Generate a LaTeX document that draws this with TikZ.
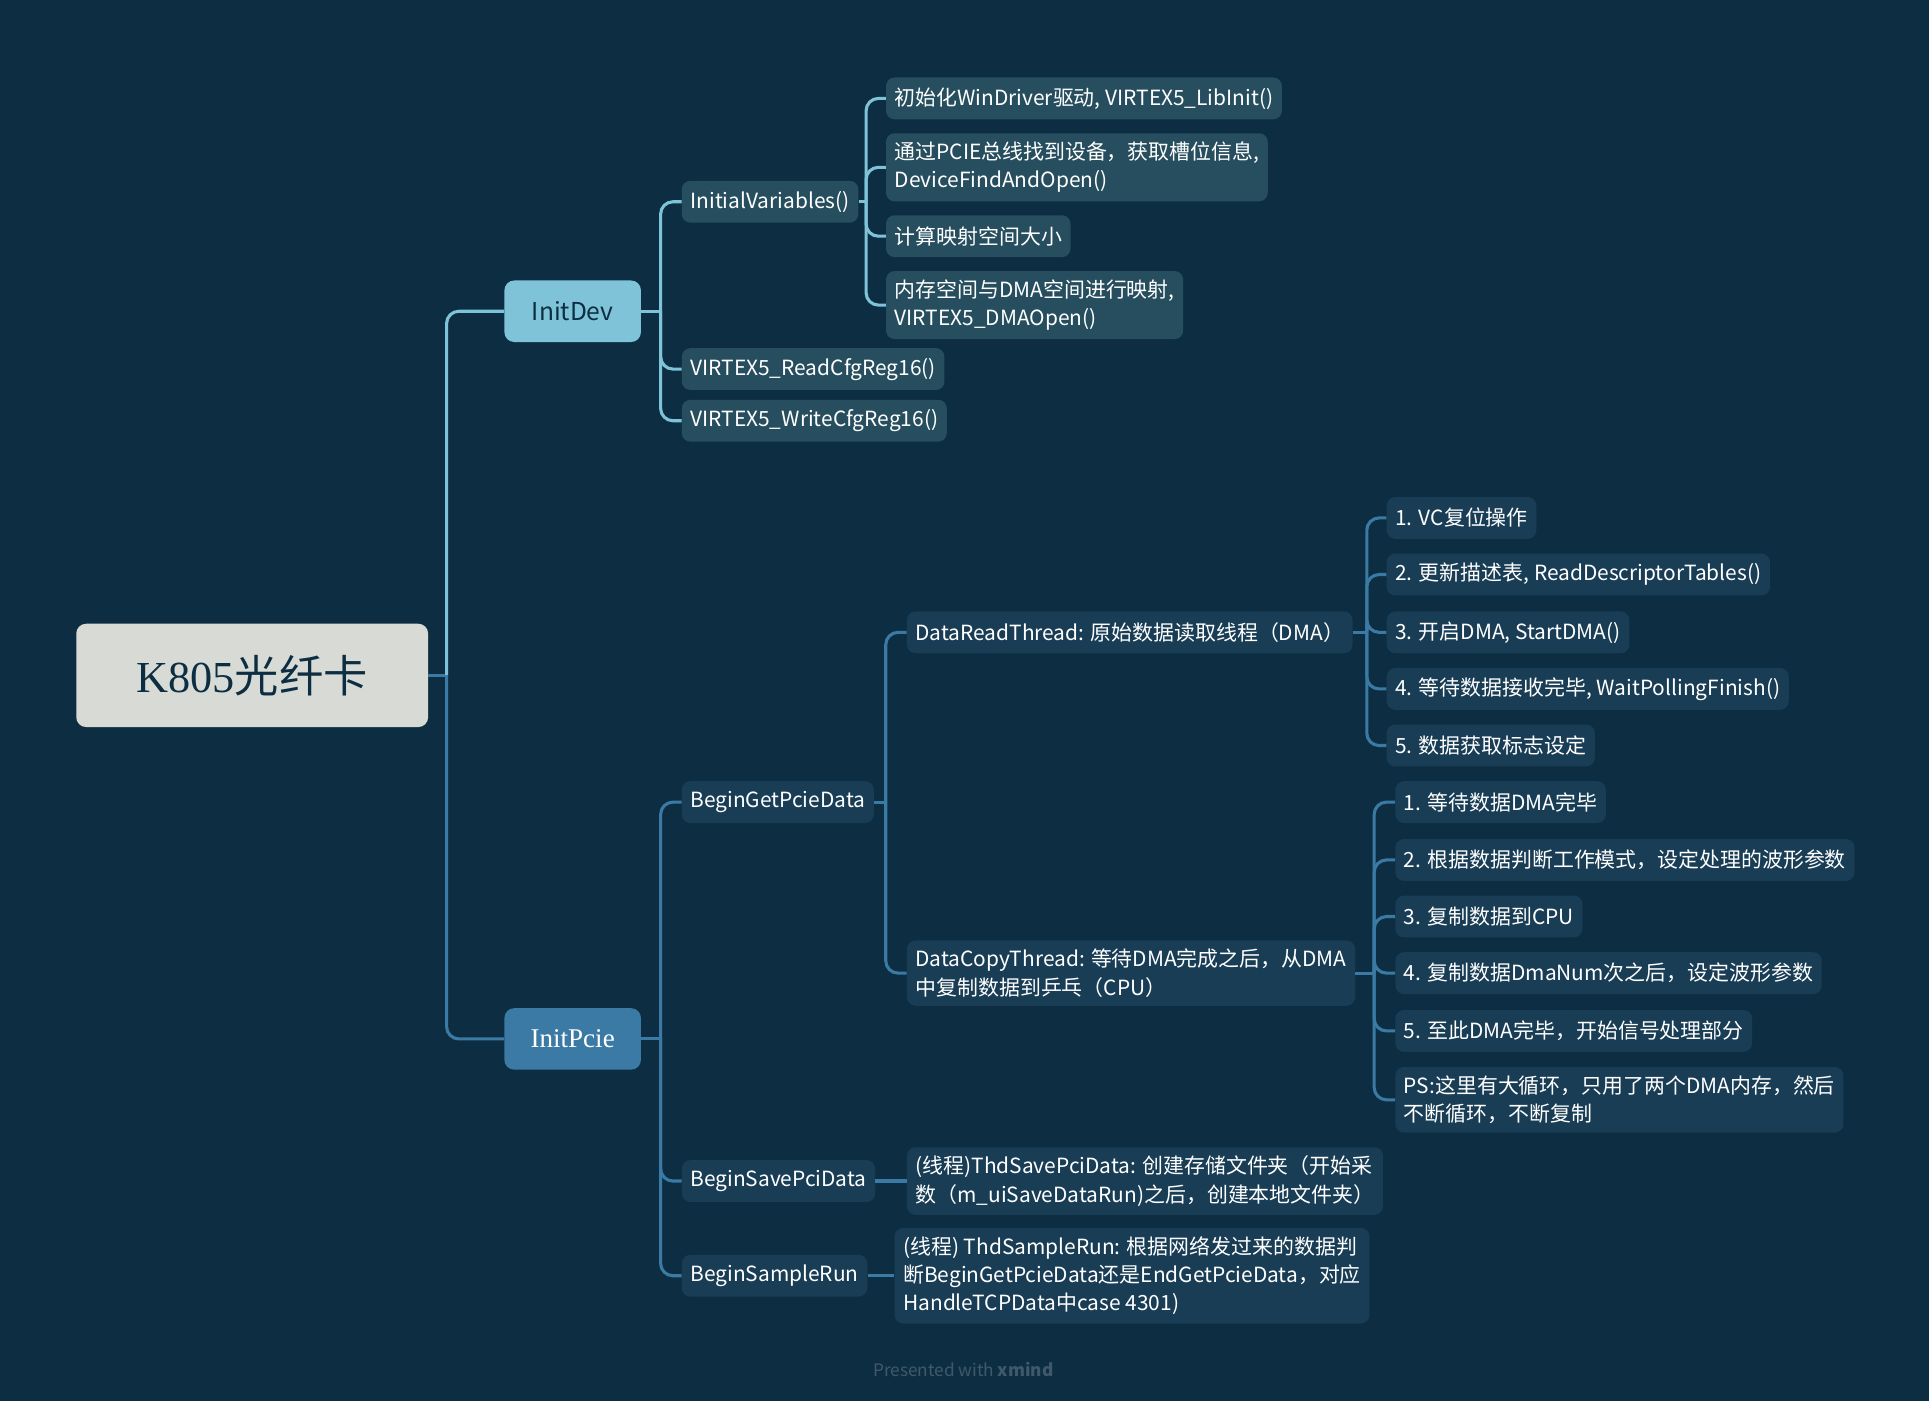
\documentclass[tikz,border=0pt]{standalone}
\usepackage{fontspec}
\setmainfont{Noto Sans CJK SC}
\newfontfamily\rootserif{Liberation Serif}
\usetikzlibrary{positioning}

\definecolor{bgnavy}{HTML}{0D2E42}
\definecolor{rootgray}{HTML}{D8DBD5}
\definecolor{devblue}{HTML}{7FC3D8}
\definecolor{devfill}{HTML}{264E5E}
\definecolor{pcieblue}{HTML}{3A7AA5}
\definecolor{pciefill}{HTML}{183D55}
\definecolor{footgray}{HTML}{40596A}

\tikzset{
  topic/.style={rounded corners=8pt, minimum width=111pt, minimum height=50pt, inner sep=0pt},
  leaf/.style={rounded corners=7pt, anchor=west, align=left, text=white,
    inner xsep=7pt, inner ysep=7pt, minimum height=34pt,
    font=\fontsize{17}{23}\selectfont},
  devleaf/.style={leaf, fill=devfill},
  pcieleaf/.style={leaf, fill=pciefill},
  devlink/.style={draw=devblue, line width=2.5pt, rounded corners=10pt},
  pcielink/.style={draw=pcieblue, line width=2.5pt, rounded corners=10pt}
}

\begin{document}
\begin{tikzpicture}[x=1pt,y=-1pt]
  \fill[bgnavy] (0,0) rectangle (1568,1139);

  % central topic and main branches
  \node[rounded corners=8pt, fill=rootgray, text=bgnavy, minimum width=286pt, minimum height=84pt,
    font=\fontsize{36}{40}\selectfont] (root) at (205,549) {{\rootserif K805}光纤卡};
  \node[topic, fill=devblue, text=bgnavy, font=\fontsize{20}{24}\selectfont] (initdev) at (465.5,253) {InitDev};
  \node[topic, fill=pcieblue, text=white, font=\rootserif\fontsize{22}{26}\selectfont] (initpcie) at (465.5,844.5) {InitPcie};

  % InitDev
  \node[devleaf] (initvar) at (554,164) {InitialVariables()};
  \node[devleaf] (readreg) at (554,300) {VIRTEX5\_ReadCfgReg16()};
  \node[devleaf] (writereg) at (554,342) {VIRTEX5\_WriteCfgReg16()};

  \node[devleaf] (libinit) at (720,80) {初始化WinDriver驱动, VIRTEX5\_LibInit()};
  \node[devleaf] (findopen) at (720,136) {通过PCIE总线找到设备，获取槽位信息,\\DeviceFindAndOpen()};
  \node[devleaf] (mapsize) at (720,192) {计算映射空间大小};
  \node[devleaf] (dmaopen) at (720,248) {内存空间与DMA空间进行映射,\\VIRTEX5\_DMAOpen()};

  % InitPcie
  \node[pcieleaf] (getdata) at (554,652) {BeginGetPcieData};
  \node[pcieleaf] (savedata) at (554,960) {BeginSavePciData};
  \node[pcieleaf] (samplerun) at (554,1037) {BeginSampleRun};

  \node[pcieleaf] (readthread) at (737,514) {DataReadThread: 原始数据读取线程（DMA）};
  \node[pcieleaf] (copythread) at (737,791) {DataCopyThread: 等待DMA完成之后，从DMA\\中复制数据到乒乓（CPU）};
  \node[pcieleaf] (savethread) at (737,960) {(线程)ThdSavePciData: 创建存储文件夹（开始采\\数（m\_uiSaveDataRun)之后，创建本地文件夹）};
  \node[pcieleaf] (samplethread) at (727,1037) {(线程) ThdSampleRun: 根据网络发过来的数据判\\断BeginGetPcieData还是EndGetPcieData，对应\\HandleTCPData中case 4301)};

  \node[pcieleaf] (read1) at (1127,421) {1. VC复位操作};
  \node[pcieleaf] (read2) at (1127,467) {2. 更新描述表, ReadDescriptorTables()};
  \node[pcieleaf] (read3) at (1127,514) {3. 开启DMA, StartDMA()};
  \node[pcieleaf] (read4) at (1127,560) {4. 等待数据接收完毕, WaitPollingFinish()};
  \node[pcieleaf] (read5) at (1127,606) {5. 数据获取标志设定};

  \node[pcieleaf] (copy1) at (1134,652) {1. 等待数据DMA完毕};
  \node[pcieleaf] (copy2) at (1134,699) {2. 根据数据判断工作模式，设定处理的波形参数};
  \node[pcieleaf] (copy3) at (1134,745) {3. 复制数据到CPU};
  \node[pcieleaf] (copy4) at (1134,791) {4. 复制数据DmaNum次之后，设定波形参数};
  \node[pcieleaf] (copy5) at (1134,838) {5. 至此DMA完毕，开始信号处理部分};
  \node[pcieleaf] (copy6) at (1134,894) {PS:这里有大循环，只用了两个DMA内存，然后\\不断循环，不断复制};

  % forks
  \coordinate (rootfork) at (363,549);
  \coordinate (devfork) at (537,253);
  \coordinate (varfork) at (704,164);
  \coordinate (pciefork) at (537,844.5);
  \coordinate (getfork) at (720,652);
  \coordinate (readfork) at (1111,514);
  \coordinate (copyfork) at (1117,791);

  % connectors
  \draw[pcielink] (root.east) -- (rootfork);
  \draw[devlink] (rootfork) |- (initdev.west);
  \draw[pcielink] (rootfork) |- (initpcie.west);

  \draw[devlink] (initdev.east) -- (devfork);
  \foreach \c in {initvar,readreg,writereg}
    \draw[devlink] (devfork) |- (\c.west);
  \draw[devlink] (initvar.east) -- (varfork);
  \foreach \c in {libinit,findopen,mapsize,dmaopen}
    \draw[devlink] (varfork) |- (\c.west);

  \draw[pcielink] (initpcie.east) -- (pciefork);
  \foreach \c in {getdata,savedata,samplerun}
    \draw[pcielink] (pciefork) |- (\c.west);
  \draw[pcielink] (getdata.east) -- (getfork);
  \foreach \c in {readthread,copythread}
    \draw[pcielink] (getfork) |- (\c.west);
  \draw[pcielink] (readthread.east) -- (readfork);
  \foreach \c in {read1,read2,read3,read4,read5}
    \draw[pcielink] (readfork) |- (\c.west);
  \draw[pcielink] (copythread.east) -- (copyfork);
  \foreach \c in {copy1,copy2,copy3,copy4,copy5,copy6}
    \draw[pcielink] (copyfork) |- (\c.west);
  \draw[pcielink] (savedata.east) -- (savethread.west);
  \draw[pcielink] (samplerun.east) -- (samplethread.west);

  \node[text=footgray, font=\fontsize{14}{16}\selectfont] (credit) at (783,1113) {Presented with \textbf{xmind}};
\end{tikzpicture}
\end{document}
